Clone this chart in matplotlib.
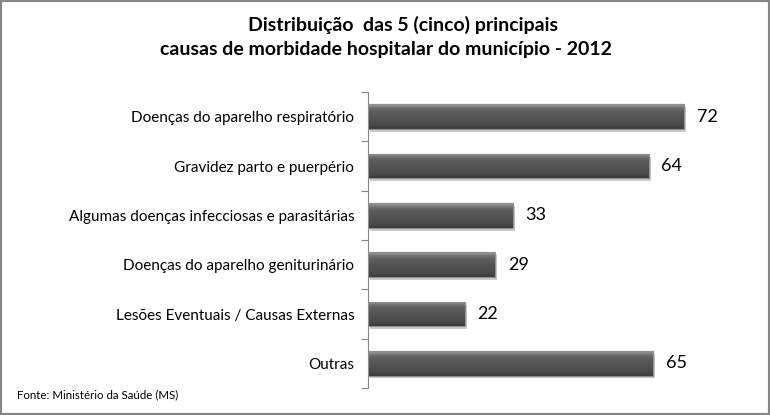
import matplotlib
matplotlib.use("Agg")
import matplotlib.pyplot as plt
import numpy as np
from matplotlib.patches import Rectangle
import matplotlib.patheffects as pe

categories = [
    "Doenças do aparelho respiratório",
    "Gravidez parto e puerpério",
    "Algumas doenças infecciosas e parasitárias",
    "Doenças do aparelho geniturinário",
    "Lesões Eventuais / Causas Externas",
    "Outras",
]
values = [72, 64, 33, 29, 22, 65]
title_line1 = "Distribuição  das 5 (cinco) principais"
title_line2 = "causas de morbidade hospitalar do município - 2012"
source = "Fonte: Ministério da Saúde (MS)"

plt.rcParams['font.family'] = ['Lato', 'DejaVu Sans']

fig = plt.figure(figsize=(7.7, 4.15), dpi=100)
ax = fig.add_axes([0.478, 0.065, 0.456, 0.713])

y = np.arange(len(categories))
bars = ax.barh(y, values, height=0.5, color='#555555', edgecolor='#8a8a8a',
               linewidth=0.8, zorder=3)

# gradient fill clipped to each bar
grad = np.array([0.60, 0.50, 0.42, 0.38, 0.36, 0.35, 0.34, 0.33, 0.32, 0.31, 0.30, 0.29, 0.27, 0.23]).reshape(-1, 1)
for b in bars:
    b.set_path_effects([pe.SimplePatchShadow(offset=(1.5, -2), shadow_rgbFace='#aaaaaa', alpha=0.6), pe.Normal()])
    x0, y0, w, h = b.get_x(), b.get_y(), b.get_width(), b.get_height()
    im = ax.imshow(grad, cmap='gray', vmin=0, vmax=1, aspect='auto',
                   extent=(x0, x0 + w, y0 + h, y0), zorder=4, interpolation='bicubic')
    im.set_clip_path(b)
    ax.add_patch(Rectangle((x0, y0), w, h, fill=False, edgecolor='#8f8f8f', linewidth=0.8, zorder=5))
    ax.annotate(f"{int(w)}", xy=(x0 + w, y0 + h / 2), xytext=(9, 0),
                textcoords='offset points', va='center', ha='left',
                fontsize=13, color='#000000')

ax.set_xlim(0, 80)
ax.set_ylim(len(categories) - 0.5, -0.5)
ax.set_yticks(y)
ax.set_yticklabels(categories, fontsize=11)
ax.tick_params(axis='y', which='major', length=0, pad=10)
ax.set_yticks(np.arange(-0.5, len(categories), 1.0), minor=True)
ax.tick_params(axis='y', which='minor', length=5, color='#868686', width=0.8)
ax.set_xticks([])
for s in ['top', 'right', 'bottom']:
    ax.spines[s].set_visible(False)
ax.spines['left'].set_color('#868686')
ax.spines['left'].set_linewidth(0.8)
ax.set_facecolor('none')

fig.text(403 / 770, 1 - 25 / 415, title_line1, ha='center', va='center', fontsize=14,
         fontweight='bold')
fig.text(386 / 770, 1 - 49 / 415, title_line2, ha='center', va='center', fontsize=14,
         fontweight='bold')
fig.text(0.022, 0.048, source, ha='left', va='center', fontsize=8.3)

fig.patches.append(Rectangle((0, 0), 1, 1, transform=fig.transFigure, fill=False,
                             edgecolor='#868686', linewidth=3, zorder=10))

fig.savefig("out.png", dpi=100)
